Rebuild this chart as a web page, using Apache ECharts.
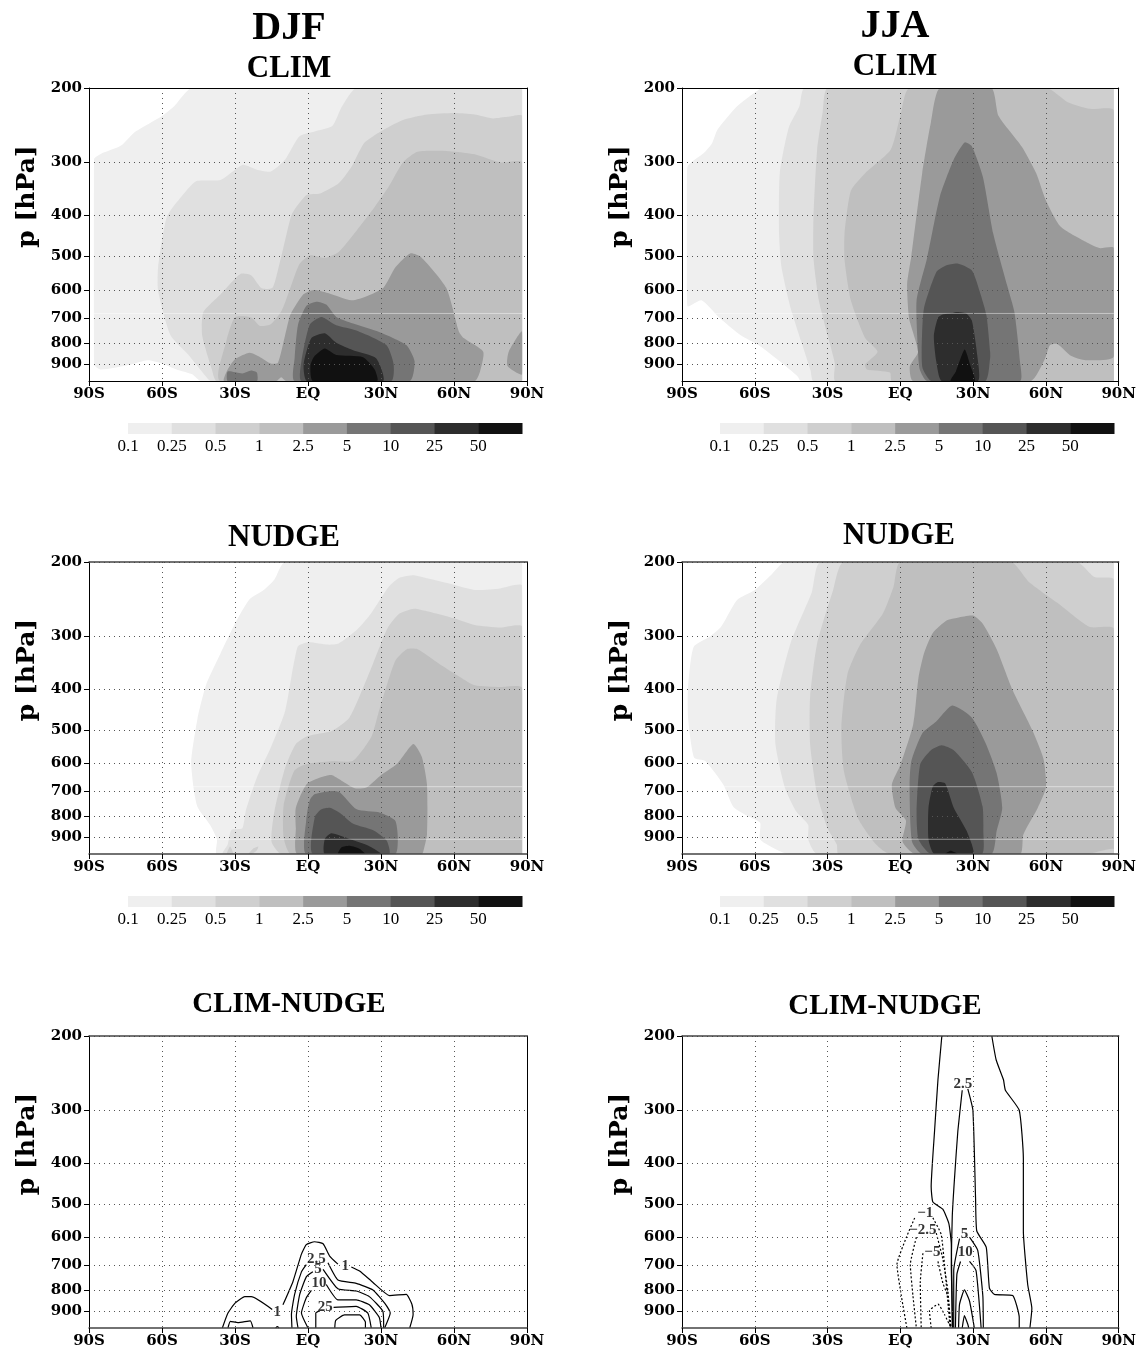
<!DOCTYPE html>
<html><head><meta charset="utf-8">
<style>html,body{margin:0;padding:0;background:#fff}#c{width:1139px;height:1350px}</style>
<script src="https://cdn.jsdelivr.net/npm/echarts@6/dist/echarts.min.js"></script>
</head><body><div id="c"></div>
<script>
const levelLabels = ['0.1','0.25','0.5','1','2.5','5','10','25','50'];
const levelGreys = ['#efefef','#e0e0e0','#cfcfcf','#bfbfbf','#9a9a9a','#757575','#555555','#2d2d2d','#111111'];
const pressureTicks = [200,300,400,500,600,700,800,900];
const latTicks = ['90S','60S','30S','EQ','30N','60N','90N'];

// filled regions: [level index, [[lat, hPa], ...]]
const djfClim = [
 [0,[[-88,295],[-85,286],[-77,274],[-71.5,255],[-67,246],[-60,233],[-55,221],[-47.6,200],[88,200],[88,985],[-44,985],[-47.6,950],[-54,925],[-60,895],[-66,880],[-72.6,900],[-85,925],[-88,900]]],
 [1,[[20,200],[14,221],[10,246],[3,253],[-3.5,260],[-9.4,295],[-15.3,315],[-21,312],[-27,304],[-36,330],[-46,332],[-52,361],[-58,403],[-61.6,530],[-61.6,603],[-56.5,768],[-49,856],[-42,960],[-40,985],[88,985],[88,200]]],
 [2,[[88,233],[82,234],[76,236],[68.5,231],[60,229],[49,231],[39,238],[29,255],[23,270],[18,306],[12.6,336],[5,355],[-0.6,358],[-6.5,396],[-9.4,458],[-12.4,540],[-14.6,593],[-19,595],[-23.4,554],[-27.8,550],[-36,615],[-43,677],[-43.5,768],[-39.5,925],[-37.5,985],[88,985]]],
 [3,[[88,300],[79,300],[68.5,287],[58,282],[45,283],[39,300],[33.2,342],[27.4,382],[20,434],[12.6,488],[6.8,504],[0.9,497],[-3.5,521],[-7.2,592],[-10.9,673],[-15.3,723],[-19.7,730],[-23.4,697],[-30,697],[-33.5,790],[-36,985],[88,985]]],
 [4,[[-34.5,985],[-33,925],[-30,875],[-24,845],[-19.7,865],[-15.3,895],[-12.4,893],[-9.4,768],[-7.2,686],[-2,615],[2.4,600],[8.2,610],[17.8,635],[24.4,620],[31,593],[36,530],[42,492],[46.5,502],[56.8,593],[62,752],[64,780],[72,840],[70.7,935],[68.5,985],[-9,985],[-11,965],[-13,985]]],
 [4,[[88,752],[82.5,840],[82,908],[88,950]]],
 [5,[[-33,985],[-33,935],[-27,945],[-23.4,930],[-21,940],[-21,985]]],
 [5,[[-5.5,985],[-5.5,870],[-4.1,725],[-0.7,655],[3.4,640],[7.5,650],[11.6,695],[18.5,720],[29.5,755],[40.4,810],[43.8,885],[41.8,985]]],
 [6,[[-2.7,985],[-2.7,885],[0.7,725],[5.5,695],[11.6,727],[19.9,748],[32.2,810],[35.2,900],[34.2,985]]],
 [7,[[-0.4,985],[-1.8,900],[1.4,780],[6.9,760],[11.6,800],[18.5,833],[28,870],[30.8,985]]],
 [8,[[2,985],[1,905],[2.7,860],[6.9,825],[11.6,855],[22.6,865],[27.4,925],[28.4,985]]]
];
const jjaClim = [
 [0,[[-87.8,308],[-81,285],[-77.6,270],[-75.4,251],[-67.3,221],[-60,205],[-57,200],[88,200],[88,985],[-41,985],[-42.4,960],[-49.7,885],[-58.5,810],[-65.8,768],[-74.6,698],[-82,635],[-87.8,655]]],
 [1,[[-39.4,200],[-41.6,221],[-46,248],[-49.7,318],[-50,442],[-49,530],[-45.3,660],[-41,790],[-37,930],[-35.8,985],[88,985],[88,200]]],
 [2,[[-29.8,200],[-32,228],[-34.3,280],[-35.8,403],[-35.8,505],[-33.6,635],[-30,768],[-27,895],[-26.7,985],[88,985],[88,200]]],
 [3,[[3.8,200],[0,233],[-4,280],[-14.5,318],[-20.4,350],[-23,442],[-23,510],[-20.4,635],[-14.5,780],[-9.4,840],[-14.5,900],[-13.8,925],[-4.3,940],[-3.5,985],[88,985],[88,226],[78,224],[69,216],[60.3,200]]],
 [4,[[16.3,200],[12.6,241],[9,318],[4.5,500],[2.8,580],[3.6,700],[7.3,840],[3.9,910],[5.2,985],[53.7,985],[59.5,875],[61.7,810],[64.7,805],[70.5,860],[76.4,880],[88,862],[88,478],[82,478],[76.4,462],[66,425],[60,369],[56,318],[50,275],[40.5,233],[37.5,200]]],
 [5,[[26.5,269],[29.5,275],[34,324],[38.3,442],[44,585],[47,677],[49.3,885],[49.3,985],[11,985],[8,925],[7.3,845],[6.7,635],[11,505],[16.3,361],[22,295]]],
 [6,[[12.8,985],[9.2,920],[8.8,830],[9.7,665],[14.8,545],[19,525],[23.6,520],[29.5,540],[32.7,605],[35.5,690],[37,840],[37,870],[35,985]]],
 [7,[[23.6,677],[27.3,683],[29.5,710],[31.7,856],[32,985],[17,985],[14.8,885],[13.8,770],[15.5,698],[17.7,685],[21.5,680]]],
 [8,[[20.7,985],[22.9,935],[26.5,830],[28.7,900],[30.6,985]]]
];
const djfNudge = [
 [0,[[-9.4,200],[-13.8,220],[-18.2,233],[-24,245],[-29.3,275],[-36,330],[-41.8,390],[-45.4,470],[-48,593],[-47,688],[-45.4,762],[-40.3,840],[-37.4,910],[-37.4,985],[88,985],[88,200]]],
 [1,[[88,228],[79,231],[68.5,233],[58,225],[49.4,219],[43.5,215],[37.6,218],[33.2,229],[25.9,265],[20,290],[12.6,312],[8.2,314],[0,310],[-4.3,318],[-9.4,451],[-15.3,551],[-21,649],[-25.6,780],[-27,856],[-31.5,864],[-33,935],[-35,985],[88,985]]],
 [2,[[88,285],[79,286],[68.5,282],[60,272],[49.4,262],[43.5,258],[37.6,265],[33,285],[30,312],[24.4,376],[17,468],[9.7,503],[0,517],[-5,540],[-9.4,615],[-13.8,780],[-15,920],[-10.9,985],[88,985]]],
 [2,[[-33.4,985],[-32,945],[-30.7,985]]],
 [2,[[-24.4,985],[-22.4,955],[-20.4,945],[-21,965],[-23,985]]],
 [3,[[88,398],[79,396],[68.5,392],[62.6,375],[54,349],[45,322],[40.6,322],[36,342],[32.5,390],[28.8,459],[26,520],[18.5,592],[9.7,594],[-0.6,603],[-5.7,626],[-10,755],[-10,900],[-7,985],[88,985]]],
 [4,[[-4.3,985],[-5,856],[-5,765],[-0.6,673],[5.3,648],[9.6,640],[13.8,660],[19.2,688],[24,685],[29.6,643],[36.5,603],[43.3,540],[46.8,580],[48.9,675],[48.9,885],[47.5,965],[46.8,985]]],
 [5,[[-0.7,985],[-0.7,815],[0.7,735],[2.8,710],[9.6,698],[13,703],[20,772],[29.6,786],[35.8,820],[36.9,900],[35.8,985]]],
 [6,[[2,985],[2.8,805],[5.5,772],[9,765],[13,786],[18.6,835],[26.8,865],[32.3,915],[33.3,985]]],
 [7,[[6.9,985],[6.9,908],[9.6,880],[17.2,908],[25.4,945],[30,985]]],
 [8,[[12.4,985],[13.8,950],[17.2,942],[21.3,958],[23.4,985]]]
];
const jjaNudge = [
 [0,[[-47.5,200],[-53.4,215],[-60,233],[-67.3,246],[-73.9,285],[-78.3,300],[-85.2,318],[-87.5,397],[-87.5,468],[-85,582],[-80.5,592],[-73,674],[-68.8,762],[-63,800],[-57.8,830],[-57.8,910],[-49.7,970],[-46,985],[88,985],[88,200]]],
 [1,[[-32.8,200],[-36.5,236],[-45.3,312],[-51,425],[-51.5,540],[-47.5,688],[-43,780],[-38,840],[-38,910],[-34.3,985],[88,985],[88,200]]],
 [2,[[-23.3,200],[-27.7,233],[-34.3,312],[-37.2,418],[-37.2,540],[-34.3,712],[-30,856],[-26.2,935],[-25.5,985],[88,985],[88,220],[80,217],[72.7,200]]],
 [3,[[0,200],[-2.8,229],[-7.2,265],[-16.7,315],[-21.8,369],[-24.3,490],[-23.3,625],[-17.4,811],[-10,935],[-4.3,985],[88,985],[88,288],[77.9,285],[64.7,250],[53,223],[45.6,200]]],
 [2,[[78,985],[84,965],[88,958],[88,985]]],
 [4,[[30,268],[33.9,280],[39.7,322],[46.3,403],[54.4,501],[59,586],[60,684],[56.6,766],[50.7,885],[49.3,985],[6,985],[0.9,920],[2.3,820],[-2,766],[-3.5,674],[0,606],[5.3,485],[7.5,375],[9.7,330],[13.3,295],[19.2,275],[23.6,271]]],
 [5,[[21.4,438],[29.5,468],[35.3,540],[39.7,634],[42,765],[39.7,868],[37.5,985],[9,985],[4.8,920],[3.8,680],[4.5,594],[9,510],[14.8,478]]],
 [6,[[17,544],[22,559],[29.5,630],[33.9,760],[34.2,868],[33.6,985],[12.6,985],[7.5,910],[6.7,781],[8.2,603],[12.6,559]]],
 [7,[[15.5,665],[18.5,670],[22,765],[27.3,868],[30,985],[14,985],[11.6,910],[11.6,765],[13.3,683]]],
 [8,[[18.5,985],[20.7,968],[23.6,985]]]
];
// contour lines: [dash?, [[lat, hPa], ...]]
const djfDiffLines = [
 [0,[[-35.2,985],[-32.9,908],[-30,860],[-26,830],[-23.3,830],[-14.7,890]]],
 [0,[[-10.3,868],[-6.2,765],[-2.7,658],[-0.7,625],[2.7,615],[6.2,622],[8.9,665],[12.3,695]]],
 [0,[[17.8,706],[21.2,722],[26.7,768],[33.5,825],[40.4,820],[42.7,865],[43.2,915],[41.8,985]]],
 [0,[[-32.9,985],[-31.9,950],[-28.8,957],[-23.7,947],[-22.6,985]]],
 [0,[[-13.3,985],[-12.6,978],[-11.9,985]]],
 [0,[[-6.6,985],[-6.8,915],[-5.5,820],[-2.7,725],[-0.7,697]]],
 [0,[[8.2,690],[12.3,758],[19.8,772],[26.7,800],[31.5,860],[33.8,908],[31.5,985]]],
 [0,[[-4.1,985],[-4.8,925],[-3.4,820],[-0.7,745],[2,725]]],
 [0,[[6.2,715],[12.3,795],[19.8,805],[25.2,830],[30.8,900],[31.1,985]]],
 [0,[[0,985],[-2.7,908],[-0.7,835],[1.4,802]]],
 [0,[[7.5,777],[12.3,845],[19.8,845],[25.2,868],[29.3,930],[30,985]]],
 [0,[[3.2,985],[3.2,908],[4.5,897]]],
 [0,[[10.5,880],[19.8,875],[24.6,908],[26,985]]],
 [0,[[11,985],[11.4,945],[15,917],[21.2,917],[23.6,955],[23.6,985]]]
];
const djfDiffLabels = [[-12.6,905,'1'],[15.3,703,'1'],[3.4,677,'2.5'],[4.1,715,'5'],[4.5,773,'10'],[7.1,878,'25']];
const jjaDiffLines = [
 [0,[[17.1,200],[15.5,254],[14.1,336],[12.7,455],[13.4,495],[17.5,515],[20,557],[21,622],[21.4,985]]],
 [0,[[37.7,200],[39.5,228],[42.5,254],[43.3,269],[49,300],[50.7,390],[50.7,580],[52.5,778],[54.2,885],[53.4,985]]],
 [0,[[25.5,269],[23.7,336],[22.3,437],[21.4,535],[21,697],[21.6,985]]],
 [0,[[27.8,267],[29.9,300],[31,485],[31.5,580],[35.4,634],[36.7,792],[38.8,820],[46.3,825],[49,930],[49,985]]],
 [0,[[24.4,605],[22,720],[22,985]]],
 [0,[[28.5,600],[31.9,645],[34,827],[34.2,985]]],
 [0,[[24.8,685],[23.3,735],[22.7,985]]],
 [0,[[28.5,685],[31.2,720],[33.3,985]]],
 [0,[[24,985],[24.4,865],[26.4,800],[28.5,850],[30.5,985]]],
 [0,[[25.5,985],[26.4,921],[27.8,965],[28.2,985]]],
 [1,[[5.9,540],[2.5,600],[-1.4,697],[0.4,827],[2.7,985]]],
 [1,[[13.4,540],[16.8,590],[18.2,697],[20.5,985]]],
 [1,[[6.6,600],[4.1,697],[5.2,827],[6.6,985]]],
 [1,[[14.8,587],[17.5,675],[19.6,805],[20.7,985]]],
 [1,[[9.3,655],[8.2,770],[8.6,985]]],
 [1,[[15.5,685],[17.5,770],[19.6,830],[20.9,985]]],
 [1,[[12.7,985],[12,897],[15.5,865],[18.2,915],[20.9,985]]]
];
const jjaDiffLabels = [[25.8,260,'2.5'],[26.4,590,'5'],[26.7,650,'10'],[10.3,525,'\u22121'],[9.3,577,'\u22122.5'],[13.2,650,'\u22125']];
const seamPressures = [[682],[682,909]];

const serif = 'Liberation Serif', dejavu = 'DejaVu Serif';
const cols = [{l:89,w:438,cb:128,cw:394},{l:682,w:437,cb:720,cw:394}];
const rows = [{t:88,h:293,cb:423,edge:'#000',ew:1},{t:562,h:292,cb:896,edge:'#444',ew:1.5},{t:1036,h:292,cb:null,edge:'#444',ew:1.5}];
const panels = [
 {c:0,r:0,fills:djfClim,seam:seamPressures[0]},
 {c:1,r:0,fills:jjaClim,seam:seamPressures[0]},
 {c:0,r:1,fills:djfNudge,seam:seamPressures[1]},
 {c:1,r:1,fills:jjaNudge,seam:seamPressures[1]},
 {c:0,r:2,lines:djfDiffLines,labels:djfDiffLabels},
 {c:1,r:2,lines:jjaDiffLines,labels:jjaDiffLabels}
];
const grid=[],xAxis=[],yAxis=[],series=[];
function addPanel(p){
  const C=cols[p.c],R=rows[p.r],g=grid.length;
  grid.push({left:C.l,top:R.t,width:C.w,height:R.h,containLabel:false});
  const xi=xAxis.length, yi=yAxis.length;
  xAxis.push({type:'value',gridIndex:g,min:-90,max:90,interval:30,z:5,
    axisLine:{show:true,onZero:false,lineStyle:{color:R.edge,width:R.ew}},
    axisTick:{show:true,length:5,inside:false,lineStyle:{color:'#000'}},
    axisLabel:{show:true,margin:6,color:'#000',fontFamily:dejavu,fontWeight:'bold',fontSize:15,
      showMinLabel:true,showMaxLabel:true,formatter:v=>latTicks[Math.round((v+90)/30)]},
    splitLine:{show:true,lineStyle:{color:'#555',type:[1,4],width:1}}});
  xAxis.push({type:'value',gridIndex:g,min:-90,max:90,position:'top',z:5,
    axisLine:{show:true,onZero:false,lineStyle:{color:R.edge,width:R.ew}},axisTick:{show:false},axisLabel:{show:false},splitLine:{show:false}});
  yAxis.push({type:'log',logBase:10,gridIndex:g,min:200,max:985,inverse:true,z:5,
    name:'p [hPa]',nameLocation:'middle',nameRotate:90,nameGap:49,
    nameTextStyle:{fontFamily:dejavu,fontWeight:'bold',fontSize:25,color:'#000',padding:[0,0,0,76]},
    axisLine:{show:true,onZero:false,lineStyle:{color:'#000',width:1}},
    axisTick:{show:true,length:5,customValues:pressureTicks,lineStyle:{color:'#000'}},
    axisLabel:{show:true,margin:7,color:'#000',fontFamily:dejavu,fontWeight:'bold',fontSize:15,customValues:pressureTicks,
      formatter:v=>String(Math.round(v))},
    splitLine:{show:true,lineStyle:{color:'#555',type:[1,4],width:1}}});
  yAxis.push({type:'log',logBase:10,gridIndex:g,min:200,max:985,inverse:true,position:'right',z:5,
    axisLine:{show:true,onZero:false,lineStyle:{color:'#000'}},axisTick:{show:false},axisLabel:{show:false},splitLine:{show:false}});
  if(p.fills){
    series.push({type:'custom',name:'fill',xAxisIndex:xi,yAxisIndex:yi,clip:true,z:2,silent:true,animation:false,
      data:p.fills.map((f,i)=>[i]),encode:{x:[],y:[]},
      renderItem:(params,api)=>{const f=p.fills[params.dataIndex];
        const a=api.coord([-88,200]),b=api.coord([88,985]);
        return {type:'group',clipPath:{type:'rect',shape:{x:a[0],y:a[1],width:b[0]-a[0],height:b[1]-a[1]}},
          children:[{type:'polygon',shape:{points:f[1].map(q=>api.coord(q)),smooth:0.2},style:{fill:levelGreys[f[0]]}}]};}});
    p.seam.forEach(s=>series.push({type:'line',xAxisIndex:xi,yAxisIndex:yi,data:[[-88,s],[88,s]],z:3,silent:true,animation:false,
      showSymbol:false,lineStyle:{color:'rgba(255,255,255,0.45)',width:1}}));
  }
  if(p.lines){
    p.lines.forEach(s=>series.push({type:'line',xAxisIndex:xi,yAxisIndex:yi,data:s[1],z:3,silent:true,animation:false,
      showSymbol:false,smooth:0.15,lineStyle:{color:'#000',width:1.2,type:s[0]?[2,2]:'solid'}}));
    series.push({type:'scatter',xAxisIndex:xi,yAxisIndex:yi,data:p.labels,z:6,silent:true,animation:false,symbolSize:1,
      itemStyle:{color:'rgba(0,0,0,0)'},
      label:{show:true,position:'inside',formatter:o=>o.value[2],fontFamily:serif,fontWeight:'bold',fontSize:15,color:'#000'}});
  }
  if(R.cb!==null){
    const cg=grid.length;
    grid.push({left:C.cb,top:R.cb,width:C.cw,height:11,containLabel:false});
    const cx=xAxis.length, cy=yAxis.length;
    xAxis.push({type:'value',gridIndex:cg,min:0,max:levelLabels.length,interval:1,
      axisLine:{show:false},axisTick:{show:false},splitLine:{show:false},
      axisLabel:{show:true,margin:4,color:'#000',fontFamily:serif,fontSize:17,showMaxLabel:false,showMinLabel:true,
        formatter:v=>levelLabels[v]||''}});
    yAxis.push({type:'value',gridIndex:cg,min:0,max:1,show:false});
    series.push({type:'custom',name:'colorbar',xAxisIndex:cx,yAxisIndex:cy,silent:true,animation:false,
      data:levelLabels.map((l,i)=>[i,i+1]),encode:{x:[0,1],y:[]},
      renderItem:(params,api)=>{const a=api.coord([api.value(0),1]),b=api.coord([api.value(1),0]);
        return {type:'rect',shape:{x:a[0],y:a[1],width:b[0]-a[0]+0.5,height:b[1]-a[1]},style:{fill:levelGreys[params.dataIndex]}};}});
  }
}
panels.forEach(addPanel);
const T=(text,x,y,size)=>({text,left:x,top:y,textAlign:'center',textVerticalAlign:'middle',padding:0,
  textStyle:{fontFamily:serif,fontWeight:'bold',fontSize:size,color:'#000'}});
const title=[T('DJF',289,29,40),T('JJA',895,27,40),T('CLIM',289,69,31),T('CLIM',895,67,31),
  T('NUDGE',284,538,31),T('NUDGE',899,536,31),T('CLIM-NUDGE',289,1005,29),T('CLIM-NUDGE',885,1007,29)];
const chart=echarts.init(document.getElementById('c'),null,{renderer:'canvas'});
chart.setOption({backgroundColor:'#fff',animation:false,title,grid,xAxis,yAxis,series});
</script></body></html>
